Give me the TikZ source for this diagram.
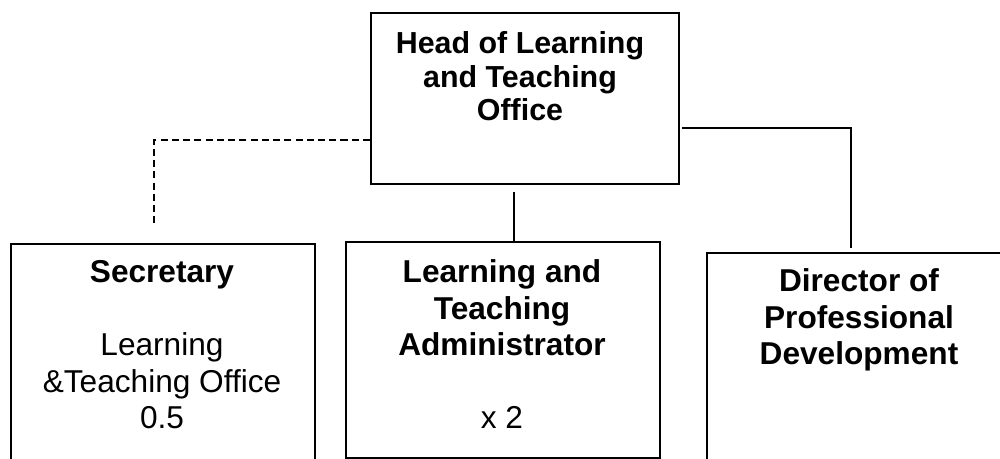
\documentclass[tikz,border=0pt]{standalone}
\usepackage{fontspec}
\setmainfont{Liberation Sans}
\begin{document}
\begin{tikzpicture}[x=0.02cm,y=-0.02cm, line width=1pt,
  box/.style={draw=black, line width=1pt, rectangle, anchor=north west, inner sep=0pt},
  lbl/.style={anchor=north, inner sep=0pt, align=center, font=\fontsize{18pt}{20.7pt}\selectfont},
  headlbl/.style={anchor=north, inner sep=0pt, align=center, font=\fontsize{17.3pt}{19pt}\selectfont\bfseries},
  dashline/.style={dash pattern=on 4pt off 2.4pt, line width=1.1pt}
]
\useasboundingbox (0,0) rectangle (1000,459);
\clip (0,0) rectangle (1000,459);

% boxes
\node[box, minimum width=6.16cm, minimum height=3.42cm] (head) at (370,12) {};
\node[box, minimum width=6.08cm, minimum height=4.8cm] (sec) at (10,243) {};
\node[box, minimum width=6.28cm, minimum height=4.32cm] (lta) at (345,241) {};
\node[box, minimum width=6.08cm, minimum height=4.8cm] (dir) at (706,252) {};

% texts
\node[headlbl] (headtxt) at (520,31) {Head of Learning\\and Teaching\\Office};
\node[lbl] (sectxt) at (162,260) {\textbf{Secretary}\\[20.7pt]Learning\\\&Teaching Office\\0.5};
\node[lbl] (ltatxt) at (502,259) {\textbf{Learning and}\\\textbf{Teaching}\\\textbf{Administrator}\\[20.7pt]x 2};
\node[lbl, font=\fontsize{18pt}{20.7pt}\selectfont\bfseries] (dirtxt) at (859,268) {Director of\\Professional\\Development};

% connector points
\coordinate (dcorner) at (154,140);
\coordinate (secup) at (154,226);
\coordinate (mtop) at (514,192);
\coordinate (rstart) at (682,128);
\coordinate (rcorner) at (851,128);
\coordinate (rend) at (851,248);

% connectors
\draw[dashline] (head.west |- dcorner) -- (dcorner) -- (secup);
\draw (mtop) -- (mtop |- lta.north);
\draw (rstart) -- (rcorner) -- (rend);
\end{tikzpicture}
\end{document}
